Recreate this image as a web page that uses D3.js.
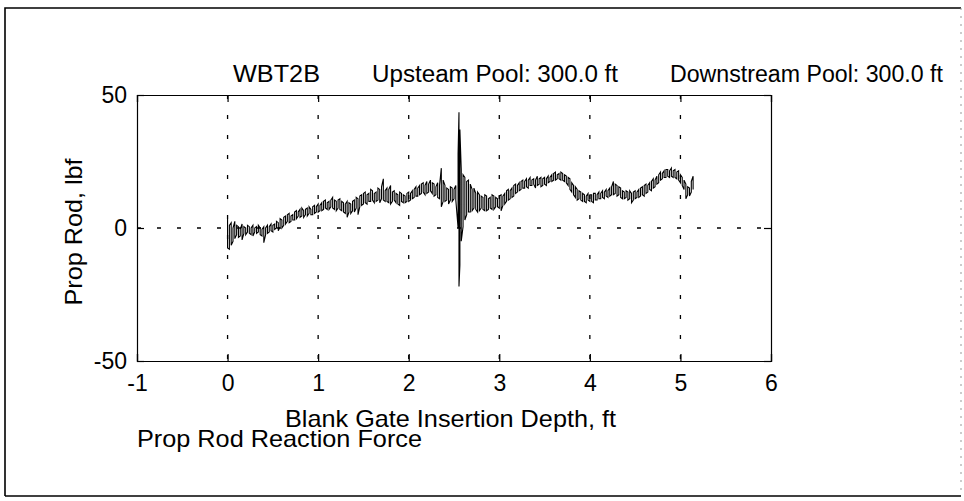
<!DOCTYPE html>
<html>
<head>
<meta charset="utf-8">
<script src="https://cdn.jsdelivr.net/npm/d3@7"></script>
<style>
  body { margin: 0; background: #fff; }
  svg text { font-family: "Liberation Sans", Arial, Helvetica, sans-serif; fill: #000; }
</style>
</head>
<body>
<svg width="964" height="501"></svg>
<script>
// data: each depth sample has a high and a low force reading
var depth = [
  0.00,0.02,0.04,0.06,0.08,0.10,0.12,0.14,0.16,0.18,
  0.20,0.22,0.24,0.26,0.28,0.30,0.32,0.34,0.36,0.38,
  0.40,0.42,0.44,0.46,0.48,0.50,0.52,0.54,0.56,0.58,
  0.60,0.62,0.64,0.66,0.68,0.70,0.72,0.74,0.76,0.78,
  0.80,0.82,0.84,0.86,0.88,0.90,0.92,0.94,0.96,0.98,
  1.00,1.02,1.04,1.06,1.08,1.10,1.12,1.14,1.16,1.18,
  1.20,1.22,1.24,1.26,1.28,1.30,1.32,1.34,1.36,1.38,
  1.40,1.42,1.44,1.46,1.48,1.50,1.52,1.54,1.56,1.58,
  1.60,1.62,1.64,1.66,1.68,1.70,1.72,1.74,1.76,1.78,
  1.80,1.82,1.84,1.86,1.88,1.90,1.92,1.94,1.96,1.98,
  2.00,2.02,2.04,2.06,2.08,2.10,2.12,2.14,2.16,2.18,
  2.20,2.22,2.24,2.26,2.28,2.30,2.32,2.34,2.36,2.38,
  2.40,2.42,2.44,2.46,2.48,2.50,2.52,
  2.545,2.555,2.565,2.58,2.60,2.62,
  2.64,2.66,2.68,2.70,2.72,2.74,2.76,2.78,2.80,2.82,
  2.84,2.86,2.88,2.90,2.92,2.94,2.96,2.98,3.00,3.02,
  3.04,3.06,3.08,3.10,3.12,3.14,3.16,3.18,3.20,3.22,
  3.24,3.26,3.28,3.30,3.32,3.34,3.36,3.38,3.40,3.42,
  3.44,3.46,3.48,3.50,3.52,3.54,3.56,3.58,3.60,3.62,
  3.64,3.66,3.68,3.70,3.72,3.74,3.76,3.78,3.80,3.82,
  3.84,3.86,3.88,3.90,3.92,3.94,3.96,3.98,4.00,4.02,
  4.04,4.06,4.08,4.10,4.12,4.14,4.16,4.18,4.20,4.22,
  4.24,4.26,4.28,4.30,4.32,4.34,4.36,4.38,4.40,4.42,
  4.44,4.46,4.48,4.50,4.52,4.54,4.56,4.58,4.60,4.62,
  4.64,4.66,4.68,4.70,4.72,4.74,4.76,4.78,4.80,4.82,
  4.84,4.86,4.88,4.90,4.92,4.94,4.96,4.98,5.00,5.02,
  5.04,5.06,5.08,5.10,5.12,5.14];
var forceHi = [
  3.5,1.0,2.0,0.0,2.5,1.0,0.5,-0.5,1.5,0.5,
  0.0,1.0,0.5,0.0,1.0,0.0,0.5,1.0,0.0,-0.5,
  0.5,0.0,1.0,0.5,1.5,1.0,1.5,2.5,2.0,3.5,
  3.0,4.0,4.5,5.0,5.5,4.5,5.0,6.0,6.5,6.0,
  7.0,7.5,6.5,7.0,7.5,8.0,7.0,8.0,8.5,8.0,
  9.0,8.5,9.5,10.0,10.5,9.5,10.0,10.5,11.5,10.5,
  10.0,10.5,11.0,10.0,9.5,9.0,10.0,9.5,9.0,10.0,
  10.5,11.5,11.0,12.0,12.5,13.0,13.5,12.5,13.0,14.5,
  14.0,13.0,13.5,15.0,14.5,15.5,18.5,14.0,15.0,14.5,
  16.0,13.5,14.0,13.0,12.5,13.5,13.0,12.5,12.0,13.0,
  13.5,13.0,14.0,14.5,15.5,15.0,16.0,16.5,17.0,16.0,
  17.5,16.5,18.0,17.0,16.5,15.5,17.0,16.0,22.5,18.0,
  16.0,15.0,14.5,15.5,15.0,14.5,16.0,
  28.0,43.5,37.0,22.0,20.0,19.0,
  17.5,18.0,16.5,14.5,15.0,13.0,13.5,12.5,12.0,11.5,
  12.5,12.0,11.0,11.5,12.5,12.0,11.5,11.0,12.0,12.5,
  12.0,13.0,14.0,14.5,14.0,15.0,16.0,16.5,16.0,17.0,
  17.5,18.0,17.5,18.5,18.0,19.0,18.0,18.5,18.0,19.5,
  18.5,19.0,18.5,19.0,18.5,19.5,19.0,20.0,20.5,21.0,
  20.0,20.5,21.0,20.5,20.0,19.5,19.0,18.5,17.0,16.0,
  15.5,14.5,14.0,13.5,13.0,12.5,12.0,13.0,12.5,12.5,
  13.0,13.0,12.5,13.5,13.0,14.0,13.5,14.5,14.0,15.0,
  15.5,17.5,16.5,16.0,15.5,15.0,14.0,13.5,14.0,13.5,
  14.0,13.0,13.5,14.0,13.5,14.5,15.0,15.5,16.0,16.5,
  16.0,17.0,17.5,18.5,18.0,19.5,20.0,21.0,20.5,21.5,
  22.0,22.0,21.5,22.5,21.5,22.0,21.0,21.5,20.0,19.0,
  18.0,16.5,15.5,15.0,17.5,19.5];
var forceLo = [
  -7.5,-8.0,-6.5,-5.0,-4.0,-2.5,-3.5,-3.0,-4.5,-2.0,
  -2.5,-1.5,-2.0,-2.5,-3.0,-1.5,-2.0,-1.5,-2.5,-3.0,
  -5.5,-2.5,-2.0,-1.5,-1.0,-1.5,-0.5,0.0,-1.0,0.5,
  0.0,1.0,1.5,2.5,2.0,2.5,3.0,3.0,3.5,4.5,
  4.0,4.5,4.0,5.0,4.5,5.5,5.0,5.0,5.5,6.0,
  6.0,6.5,6.5,7.0,7.5,7.0,7.0,8.0,7.5,7.0,
  6.5,7.5,7.0,6.5,6.0,5.5,4.0,6.0,5.5,6.5,
  6.0,7.5,5.0,8.0,8.5,9.0,9.5,9.0,10.0,10.0,
  10.5,9.5,10.0,10.5,9.5,11.0,10.5,10.0,10.0,9.5,
  9.0,10.0,10.5,9.5,9.0,8.5,10.0,9.5,9.5,10.0,
  10.0,10.5,11.0,11.5,12.0,12.0,12.5,13.0,13.5,12.5,
  13.0,13.5,14.0,13.0,12.0,12.5,11.5,11.0,8.0,10.0,
  10.0,10.5,9.0,10.5,10.0,11.0,10.5,
  0.0,-22.0,-14.0,-5.0,0.5,3.0,
  5.0,6.0,6.0,6.5,7.5,7.0,6.0,6.5,7.5,7.0,
  6.5,6.5,7.0,7.5,7.0,7.0,8.0,8.0,7.5,6.5,
  8.5,9.0,10.0,10.5,11.0,11.5,12.0,13.0,13.5,14.0,
  14.5,15.0,15.0,15.5,15.0,16.0,16.0,16.5,15.0,16.0,
  16.5,15.5,16.0,16.5,16.0,17.0,17.5,17.5,18.0,18.0,
  18.5,18.5,18.0,18.0,17.5,17.0,16.0,14.5,13.5,12.5,
  11.5,10.5,11.0,10.5,10.0,10.0,9.5,10.5,10.0,10.0,
  9.5,10.5,10.5,11.0,11.0,11.5,11.0,12.0,11.5,12.0,
  12.5,12.5,13.0,12.0,12.5,11.5,11.0,11.0,11.5,10.5,
  11.0,9.5,10.5,11.0,11.5,11.5,12.0,12.5,12.0,13.0,
  13.5,14.5,14.0,15.0,15.5,16.5,17.0,18.0,18.5,19.0,
  19.0,19.5,19.0,19.5,19.0,19.0,18.5,18.0,17.0,16.0,
  14.5,11.0,12.5,12.0,13.5,14.5];
var xTicks = [-1, 0, 1, 2, 3, 4, 5, 6];
var yTicks = [-50, 0, 50];
var titleParts = ["WBT2B", "Upsteam Pool: 300.0 ft", "Downstream Pool: 300.0 ft"];

var svg = d3.select("svg");

// figure frame
svg.append("path")
  .attr("d", "M5,496 L5,8 L961,8")
  .attr("fill", "none").attr("stroke", "#000").attr("stroke-width", 1.6);
svg.append("line")
  .attr("x1", 5).attr("x2", 961).attr("y1", 496).attr("y2", 496)
  .attr("stroke", "#000").attr("stroke-width", 1.6);
svg.append("line")
  .attr("x1", 961).attr("x2", 961).attr("y1", 8).attr("y2", 496)
  .attr("stroke", "#999").attr("stroke-width", 1).attr("stroke-dasharray", "2,6");

var plotL = 137, plotR = 771, plotT = 95, plotB = 361;
var x = d3.scaleLinear().domain([-1, 6]).range([plotL, plotR]);
var y = d3.scaleLinear().domain([-50, 50]).range([plotB, plotT]);

// dotted grid
var grid = svg.append("g").attr("stroke", "#000").attr("stroke-width", 1.3).attr("stroke-dasharray", "4,16");
grid.selectAll(".gx").data(xTicks.slice(1, -1)).enter().append("line")
  .attr("x1", function(d) { return x(d); }).attr("x2", function(d) { return x(d); })
  .attr("y1", plotT).attr("y2", plotB);
grid.selectAll(".gy").data([0]).enter().append("line")
  .attr("x1", plotL).attr("x2", plotR)
  .attr("y1", function(d) { return y(d); }).attr("y2", function(d) { return y(d); });

// axes box with inward ticks
var minus = function(d) { return d < 0 ? "-" + Math.abs(d) : String(d); };

var ax = svg.append("g").attr("transform", "translate(0," + plotB + ")")
  .call(d3.axisBottom(x).tickValues(xTicks).tickSize(-7).tickPadding(14).tickFormat(minus));
var axTop = svg.append("g").attr("transform", "translate(0," + plotT + ")")
  .call(d3.axisTop(x).tickValues(xTicks).tickSize(-7).tickFormat(""));
var ay = svg.append("g").attr("transform", "translate(" + plotL + ",0)")
  .call(d3.axisLeft(y).tickValues(yTicks).tickSize(-7).tickPadding(10).tickFormat(minus));
var ayR = svg.append("g").attr("transform", "translate(" + plotR + ",0)")
  .call(d3.axisRight(y).tickValues(yTicks).tickSize(-7).tickFormat(""));

[ax, axTop, ay, ayR].forEach(function(g) {
  g.select(".domain").attr("stroke", "#000").attr("stroke-width", 1.2);
  g.selectAll(".tick line").attr("stroke", "#000").attr("stroke-width", 1.2);
  g.selectAll("text").attr("font-size", 23).attr("font-family", null).attr("fill", "#000");
});

// the reaction force trace: vertical strokes between low and high readings
var pts = [];
depth.forEach(function(d, i) {
  if (i % 2 === 0) {
    pts.push([d, forceHi[i]]); pts.push([d, forceLo[i]]);
  } else {
    pts.push([d, forceLo[i]]); pts.push([d, forceHi[i]]);
  }
});
var line = d3.line().x(function(p) { return x(p[0]); }).y(function(p) { return y(p[1]); });
svg.append("path")
  .datum(pts)
  .attr("d", line)
  .attr("fill", "none")
  .attr("stroke", "#000")
  .attr("stroke-width", 1.1);

// title line
var titleX = [233, 372, 670], titleW = [87, 246, 273];
svg.selectAll(".title").data(titleParts).enter().append("text")
  .attr("class", "title")
  .attr("x", function(d, i) { return titleX[i]; })
  .attr("y", 82)
  .attr("font-size", 23)
  .attr("textLength", function(d, i) { return titleW[i]; })
  .attr("lengthAdjust", "spacingAndGlyphs")
  .text(function(d) { return d; });

svg.append("text")
  .attr("x", 285).attr("y", 427)
  .attr("font-size", 24)
  .attr("textLength", 331).attr("lengthAdjust", "spacingAndGlyphs")
  .text("Blank Gate Insertion Depth, ft");

svg.append("text")
  .attr("x", 137).attr("y", 447)
  .attr("font-size", 24)
  .attr("textLength", 285).attr("lengthAdjust", "spacingAndGlyphs")
  .text("Prop Rod Reaction Force");

svg.append("text")
  .attr("transform", "translate(82,232) rotate(-90)")
  .attr("text-anchor", "middle")
  .attr("font-size", 24)
  .attr("textLength", 147).attr("lengthAdjust", "spacingAndGlyphs")
  .text("Prop Rod, lbf");
</script>
</body>
</html>
